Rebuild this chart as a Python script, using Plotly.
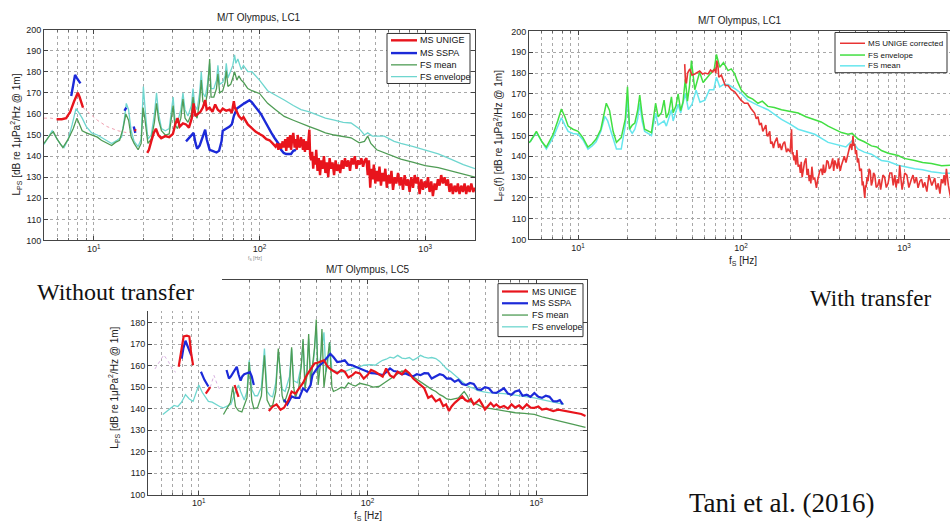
import math
import plotly.graph_objects as go

# ---- data (frequency Hz, level dB); None marks a gap ----

# LC1, without transfer
lc1_unige = [(5.96, 157.5), (6.4, 157.5), (6.8, 158), (7.2, 161), (7.6, 166), (8.0, 170), (8.2, 168), (8.5, 164), (8.6, 163),
             None,
             (17.6, 152.5), (18.0, 152),
             None,
             (21.0, 141.5), (21.5, 143), (22.2, 147), (23.0, 151), (23.7, 153), (24.5, 150), (25.5, 148.5), (27, 149.5),
             (28.5, 149), (30, 150.5), (31, 155), (32, 158), (33, 154), (34.5, 155.5), (36, 155), (37.5, 153.5), (39, 158),
             (40, 165), (41, 159), (42.5, 160), (44, 161), (45.5, 163), (47, 166.5), (48, 162), (50, 163), (52, 161),
             (54, 164.5), (56, 162), (58, 161), (60, 162.5), (63, 161.5), (66, 162), (68, 160.5), (70, 166), (71, 163),
             (73, 161), (75, 159), (78, 157.5), (80, 158.5), (85, 155), (90, 153), (95, 151.5), (100, 150.5), (105, 149.5),
             (110, 148), (115, 147.5), (120, 146), (125, 144.5), (128, 146), (130, 143), (133, 146), (135, 143.5),
             (138, 147), (140, 144), (143, 148), (145, 142.5), (148, 149), (150, 144), (153, 150), (155, 143),
             (158, 149), (160, 151), (163, 144), (165, 148), (168, 143), (170, 150), (173, 145), (175, 144),
             (178, 149), (180, 146), (183, 143), (185, 148), (188, 142), (190, 147), (195, 143),
             (200, 152.5), (202, 141), (205, 138), (208, 142), (211, 134), (214, 140), (217, 136), (220, 143),
             (224, 133), (228, 139), (232, 131), (236, 138), (240, 134), (245, 140), (250, 132), (255, 137),
             (260, 130), (265, 139), (270, 134), (276, 137), (282, 131), (288, 138), (294, 133), (300, 136),
             (307, 132), (314, 138), (321, 134), (328, 139), (336, 135), (344, 138), (352, 133), (360, 139),
             (368, 136), (376, 140), (385, 134), (394, 138), (403, 136), (412, 139), (422, 135), (432, 138),
             (442, 139), (450, 131), (458, 138), (466, 125), (474, 134), (482, 129), (490, 136), (500, 127),
             (510, 133), (520, 128), (530, 135), (541, 126), (552, 132), (563, 128), (575, 134), (587, 125),
             (600, 131), (613, 127), (626, 133), (640, 124), (655, 130), (670, 127), (686, 132), (702, 126),
             (718, 130), (735, 124), (752, 131), (770, 126), (788, 129), (806, 123), (825, 130), (845, 125),
             (865, 131), (885, 127), (905, 130), (926, 122), (948, 129), (970, 124), (993, 128), (1016, 125),
             (1040, 130), (1064, 123), (1089, 128), (1114, 121), (1140, 127), (1167, 124), (1194, 129),
             (1222, 126), (1250, 131), (1280, 127), (1310, 130), (1340, 126), (1372, 129), (1404, 123),
             (1437, 127), (1470, 122), (1505, 126), (1540, 123), (1576, 127), (1613, 122), (1651, 126),
             (1690, 123), (1730, 127), (1770, 122), (1812, 126), (1855, 123), (1900, 127), (1950, 123), (2000, 125)]

lc1_unige_faint = [(5.0, 158), (5.5, 158), (5.96, 157.5), None,
                   (8.6, 163), (9.5, 160), (10.5, 157), (12, 154), (14, 152), (16, 151), (17.6, 152.5)]

lc1_sspa = [(7.3, 168.5), (7.5, 173), (7.7, 178.5), (7.9, 177), (8.1, 175.5), (8.3, 174.5),
            None,
            (15.3, 161.5), (15.7, 163),
            None,
            (17.4, 154), (17.8, 151),
            None,
            (36, 147), (37.5, 148.5), (39, 150), (40, 151), (41, 146.5), (42, 143.5), (43.5, 145), (45, 148.5),
            (47, 152.5), (48, 148), (50, 143), (52, 142.5), (55, 141.7), (57, 142.5), (59, 147), (60, 152), (63, 153),
            (66, 154), (68, 155), (70, 159), (73, 162.5), (77, 164), (81, 165), (87, 166.5), (90, 165.5), (93, 164),
            (97, 162), (102, 160), (107, 157), (112, 154), (118, 151), (123, 148.7), (130, 146), (135, 143),
            (140, 141.5), (145, 141), (155, 141), (160, 142.5), (166, 143)]

lc1_fs_mean = [(5.0, 146), (5.5, 150.5), (5.7, 151.5), (6.0, 148), (6.5, 144), (7.0, 148), (7.5, 153), (7.9, 158),
               (8.2, 155), (8.5, 152), (9.0, 151), (9.7, 150), (10.5, 149), (11.1, 147.5), (12, 146), (12.8, 145),
               (13.5, 146.5), (14.3, 147.5), (15.0, 153), (15.6, 160), (16.2, 157), (16.8, 149), (17.5, 146),
               (18.5, 143), (19.3, 146), (19.8, 163), (20.3, 158), (21.2, 146), (22.2, 148), (23.2, 156), (23.9, 165),
               (24.6, 157), (25.6, 152), (27, 150), (28.5, 150.5), (30.1, 164), (30.8, 155), (32, 153), (33.5, 158),
               (34.5, 167), (35.5, 158), (37, 156), (38.8, 160), (39.7, 168), (40.7, 160), (42, 158), (43.5, 166),
               (44.5, 176), (45.5, 166), (47, 164), (48.5, 170), (50, 186), (51, 168), (53, 168), (55, 172),
               (56.1, 179), (57.5, 170), (60, 171), (62, 175), (63, 180.5), (64.5, 173), (67, 174), (69, 177),
               (70.7, 180), (73, 176), (75, 178), (77.6, 176), (80, 175), (85, 172), (90, 171), (100, 169.7),
               (112, 165), (125, 162), (141, 158.8), (160, 157), (178, 155.7), (200, 154), (224, 152.5), (250, 151),
               (283, 150), (320, 149.5), (357, 148.7), (400, 146.3), (430, 147), (450, 149.5), (470, 146), (510, 143),
               (600, 141), (713, 138.6), (850, 137), (1000, 135.5), (1200, 134.5), (1428, 133), (1700, 131.5),
               (2000, 130)]

lc1_fs_env = [(5.0, 145.5), (5.3, 149), (5.6, 152), (5.9, 149), (6.3, 145.5), (6.6, 144), (7.0, 148), (7.4, 155),
              (7.8, 162.5), (8.2, 160), (8.5, 158), (9.0, 154), (9.7, 151), (10.5, 150), (11.5, 148), (12.8, 146),
              (13.8, 147.5), (14.7, 149), (15.3, 158), (15.7, 165), (16.2, 162), (16.8, 152), (17.5, 147),
              (18.5, 144.5), (19.3, 148), (19.9, 173), (20.5, 160), (21.2, 148), (22.2, 150), (23.2, 160),
              (23.9, 170), (24.6, 160), (25.6, 153), (27, 152), (28.5, 153), (30.1, 168), (30.8, 158), (32, 156),
              (33.5, 162), (34.5, 170), (35.5, 162), (37, 159), (38.8, 164), (39.7, 172), (40.7, 164), (42, 162),
              (43.5, 170), (44.5, 180), (45.5, 170), (47, 168), (48.5, 174), (50, 184), (51, 172), (53, 172),
              (55, 176), (56.1, 183), (57.5, 174), (60, 175), (62, 178), (63, 184), (64.5, 177), (67, 180), (69, 183),
              (70.7, 188), (72, 184), (74, 186), (77.6, 181), (80, 183), (85, 180), (90, 180), (95, 178), (100, 176),
              (112, 171), (125, 169), (141, 166.6), (160, 164), (178, 162), (200, 161), (224, 159.6), (250, 158),
              (283, 157), (320, 156), (357, 155.7), (400, 153), (430, 150), (450, 151), (480, 149.5), (566, 149.5),
              (650, 147), (713, 146), (850, 144.5), (1000, 143), (1200, 141), (1428, 138.6), (1700, 136),
              (2000, 134)]

# LC1, with transfer
lc1t_unige_corr = [(45.1, 184.3), (45.6, 176), (46.2, 175), (47, 180), (48.5, 182), (50, 179), (52, 179.6),
                   (54, 180.5), (55.7, 181), (58, 179.5), (60, 180), (62.8, 179.6), (65, 181.5), (67, 180.5),
                   (68.9, 182), (70, 180), (71, 186), (72.2, 183), (73, 178), (75.7, 179), (78, 176), (80, 174),
                   (83.2, 174), (87, 172), (91.4, 171), (95, 169), (99.8, 167), (105, 165.5), (110, 165.5),
                   (115, 163), (121, 160.8), (124, 158), (127, 159), (130, 155), (133, 156), (136, 152), (138, 153),
                   (142, 155), (144, 150), (146, 149.8), (150, 152), (152, 146), (155, 147), (158, 144),
                   (161, 146.7), (166, 149), (170, 144), (173, 146), (177, 143), (181, 146), (185, 147),
                   (190, 142), (194, 143.5), (200, 142), (204, 153), (206, 141), (208, 142), (211, 138),
                   (213, 140.4), (217, 136), (220, 143), (224, 135), (228, 136), (231, 132), (234, 137.3),
                   (237, 130), (240, 133), (245, 137), (250, 139), (254, 131), (258, 134), (262, 128), (265, 131),
                   (268, 127), (272, 135), (277, 129), (283, 129.5), (287, 126), (290, 124.8), (294, 128),
                   (298, 130), (304, 133), (311, 134), (316, 131), (320, 136), (325, 132), (330, 133), (336, 138),
                   (342, 137.3), (348, 134), (355, 135), (360, 138), (365, 139), (370, 133), (376, 138), (383, 136),
                   (390, 134), (395, 139), (400, 137), (406, 133), (413, 135.7), (420, 138), (430, 140), (440, 137),
                   (453, 142), (462, 144), (470, 146), (478, 143), (486, 149.8), (492, 145), (498, 146), (504, 141),
                   (510, 143), (518, 137), (525, 139), (535, 133), (547, 134), (554, 126), (560, 128), (567, 123),
                   (574, 120), (580, 126), (585, 125), (593, 130), (601, 128), (610, 134), (620, 133), (630, 126),
                   (640, 128), (650, 132), (661, 131), (675, 125), (690, 126), (705, 129), (718, 124),
                   (726, 126.3), (742, 131), (760, 130), (778, 125), (798, 127), (818, 132), (840, 132), (858, 126),
                   (877, 131), (893, 125), (910, 129), (925, 127), (940, 135.7), (950, 130), (960, 128), (973, 124),
                   (986, 127), (1010, 132), (1040, 131), (1070, 125), (1109, 129), (1135, 131), (1160, 127),
                   (1190, 130), (1219, 124.8), (1250, 128), (1280, 129), (1310, 125), (1340, 127.5), (1380, 123),
                   (1420, 131), (1480, 126), (1542, 129.5), (1580, 124), (1620, 127), (1660, 122), (1695, 129),
                   (1730, 127), (1760, 131), (1790, 126), (1818, 134), (1845, 128), (1870, 126), (1910, 122),
                   (1950, 118.5)]

lc1t_fs_env = [(5.0, 146.5), (5.13, 147.5), (5.55, 152), (6.0, 147), (6.39, 144.4), (7.03, 150.6), (7.5, 157),
               (7.9, 162.7), (8.3, 159), (8.69, 154.5), (9.3, 153), (10, 152), (10.7, 149), (11.5, 144.4),
               (12.2, 146), (12.9, 148.3), (13.8, 153), (14.6, 162.4), (14.9, 165.5), (15.6, 162), (16.4, 152),
               (17.2, 146.7), (18.4, 149), (19.5, 158), (20.1, 173.4), (20.7, 153), (21.5, 155), (22.3, 156),
               (23.2, 162), (23.9, 169.4), (24.7, 160), (25.6, 153), (27, 152), (28.2, 151.4), (29.9, 165.5),
               (31, 159), (32.5, 161), (33.7, 167), (34.8, 158.5), (36, 161), (37.4, 168.6), (38.3, 161),
               (39.8, 164), (41.1, 170), (42.6, 162), (44, 166), (45.5, 177), (46.9, 166.5), (48.3, 174),
               (49.6, 186), (52, 172), (54, 176), (55.7, 180.4), (58.5, 175.5), (62, 178), (65.8, 180.4),
               (68.5, 182), (70.6, 189), (74, 182.8), (78, 185), (83.2, 181.2), (87, 182), (91.4, 179.6), (95, 176),
               (100.4, 171.8), (110, 168.6), (118, 167.5), (127, 165.5), (135, 166.5), (146, 164), (160, 163.5),
               (177, 162.4), (200, 161.5), (224, 160.8), (250, 159), (283, 157.7), (310, 156.5), (342, 154.5),
               (375, 153), (413, 151.4), (453, 150.6), (480, 151), (522, 148.3), (570, 147), (631, 145),
               (680, 144.5), (726, 142.8), (800, 141.5), (919, 140.4), (1000, 139), (1162, 138), (1300, 137),
               (1471, 136.5), (1700, 135.5), (1950, 135.7)]

lc1t_fs_mean = [(5.0, 146.5), (5.13, 147.5), (5.55, 151.5), (6.0, 147), (6.39, 143.5), (7.03, 149), (7.5, 154),
                (7.9, 158.5), (8.3, 155), (8.69, 152), (9.3, 151), (10, 150.6), (10.7, 148), (11.5, 143.5),
                (12.2, 145), (12.9, 147), (13.8, 152), (14.6, 159.2), (15.2, 157), (16.4, 149), (17.2, 143.5),
                (18.4, 143.5), (19.5, 155), (20.1, 168.7), (20.7, 153), (21.5, 151), (22.3, 153), (23.2, 158),
                (23.9, 165.5), (24.7, 157), (25.6, 152), (28.2, 150), (29.9, 160.8), (31, 155), (33.7, 157),
                (34.8, 154.5), (37.4, 162.4), (38.3, 157), (41.1, 165), (42.6, 160.8), (45.5, 170.2), (47.5, 162.4),
                (50, 165), (53, 171.8), (56, 166), (60, 167), (64, 172), (68, 172), (70.6, 178), (74, 173.4),
                (78, 174.5), (83.2, 174.5), (91.4, 172.6), (100.4, 170.2), (110, 167), (127, 164.5), (146, 162.4),
                (177, 157.7), (200, 155.5), (224, 153), (283, 150.6), (342, 146.7), (413, 145.1), (440, 144.5),
                (480, 147.5), (520, 143.5), (570, 142), (631, 141), (726, 138), (800, 137.5), (919, 135.7),
                (1000, 135), (1162, 134), (1300, 133.5), (1471, 132.6), (1700, 132), (1950, 131.8)]

# LC5, without transfer
lc5_unige = [(7.6, 159.5), (7.9, 167), (8.13, 173.6), (8.5, 174), (8.79, 173.6), (9.0, 166), (9.25, 160.2),
             None,
             (11.0, 147), (11.4, 148.5), (11.7, 150),
             None,
             (16.3, 151), (16.8, 148), (17.2, 145.5),
             None,
             (26.0, 138.9), (27.4, 141), (28.9, 142), (30.5, 139.5), (32.0, 140.4), (34, 144), (35.5, 148),
             (37.4, 147), (39.4, 149.5), (41.5, 152), (43.7, 155.6), (46, 158), (48.5, 161), (51, 161.5),
             (53.7, 162), (55.2, 162.5), (57.5, 160), (59.6, 158.7), (62.8, 157.5), (66.1, 156.4), (70, 158),
             (73.3, 157.2), (77, 154.5), (81.3, 155.6), (85, 157), (90.1, 156.4), (95, 154), (100, 155.6),
             (105, 158), (111, 157.2), (117, 156), (123, 154.9), (129, 158.7), (136, 155.5), (143, 154.5),
             (151, 157.2), (160, 156), (168, 158), (177, 156.5), (186, 154.1), (196, 152.5), (206, 151),
             (217, 149.5), (229, 145), (240, 146), (254, 143.4), (268, 144.5), (281, 141.2), (292, 142),
             (304, 138.9), (315, 141), (329, 142.7), (346, 144), (364, 145.7), (380, 144), (394, 143.4),
             (410, 144.5), (426, 142), (443, 143), (460, 144.2), (478, 142), (497, 139.6), (515, 141),
             (537, 142.7), (560, 141), (580, 142), (610, 140.5), (644, 141.2), (680, 140), (714, 142),
             (750, 140.5), (792, 141.5), (830, 140), (879, 142), (925, 140.5), (975, 140.4), (1030, 141),
             (1081, 139.6), (1150, 140), (1262, 138.9), (1350, 139.5), (1475, 139), (1600, 138.5),
             (1721, 138.1), (1850, 137.5), (1959, 136.6)]

lc5_unige_faint = [(5.5, 158.5), (5.9, 162), (6.2, 165), (6.6, 162), (7.0, 158), (7.3, 157), None,
                   (11.7, 150), (12.3, 155.5), (12.9, 151), (13.5, 148)]

lc5_sspa = [(7.92, 163.3), (8.1, 168), (8.34, 171.6), (8.6, 169), (8.79, 167.8), (9.02, 164.8),
            None,
            (10.3, 157.2), (10.8, 153.4), (11.4, 150.3),
            None,
            (14.6, 158), (15.1, 154), (15.5, 155), (15.9, 156.4), (16.3, 158), (16.8, 159.5), (17.2, 156),
            (17.7, 153), (18.1, 155), (18.6, 156), (19.1, 156.4), (20.1, 157), (20.6, 155), (21.2, 151),
            None,
            (32.0, 144.2), (33.5, 142), (35.5, 145.7), (37.4, 145), (39.4, 145), (41.5, 149.5), (43.7, 148),
            (46, 151), (47.2, 155.6), (49, 157.5), (51, 159.5), (53.7, 161), (56.6, 163.3), (60.2, 165.5),
            (62.8, 164), (66.1, 161.7), (70, 162), (73.3, 162.5), (77, 160.5), (81.3, 160.2), (85, 159.5),
            (90.1, 158.7), (95, 157.8), (100, 157.2), (105, 156.5), (111, 156.4), (117, 156), (123, 155.6),
            (129, 157), (136, 158.7), (143, 157.5), (151, 157.2), (160, 156), (168, 156.4), (177, 155.5),
            (186, 155), (196, 156), (206, 155.6), (217, 156.5), (229, 156.4), (240, 154), (254, 154.9),
            (268, 156), (281, 155.6), (295, 154), (311, 154.1), (329, 152.5), (346, 153.4), (364, 151.5),
            (384, 151), (405, 152), (426, 151.5), (448, 149), (472, 148.8), (497, 150), (524, 149.5),
            (550, 147.5), (580, 147.3), (610, 148.5), (644, 149.5), (680, 147), (714, 146.5), (750, 148),
            (792, 148.5), (830, 146), (879, 146.5), (925, 145.5), (975, 147.3), (1030, 145.5), (1081, 145),
            (1140, 146), (1199, 145.5), (1260, 143.5), (1330, 143.4), (1380, 144), (1437, 142)]

lc5_fs_mean = [(14.0, 137.3), (14.7, 140.4), (15.4, 143), (15.9, 150.3), (16.5, 141), (17.2, 139), (18.0, 138.5),
               (19.3, 145), (19.9, 161.7), (20.6, 144), (21.2, 140), (22.3, 140.5), (23.5, 146), (24.5, 164.8),
               (25.4, 144), (26.5, 141), (27.4, 141.5), (28.6, 148), (29.6, 168), (31.2, 146), (32.0, 143),
               (32.9, 145), (34.5, 150), (35.5, 168.6), (36.5, 150), (37.4, 145), (39.2, 150), (40.5, 160),
               (41.5, 172.4), (42.6, 149), (43.7, 155), (44.8, 174.7), (46.0, 151), (47.2, 160), (48.5, 168),
               (49.7, 181.5), (51.0, 151), (52.5, 160), (53.7, 177), (55.2, 150), (57, 158), (59.6, 170.9),
               (61.5, 150), (62.8, 148), (66.1, 148.8), (70, 150), (73.3, 149.5), (77, 152), (81.3, 151),
               (85, 150.5), (90.1, 151.8), (100, 151), (108, 150), (117, 150.3), (123, 151.5), (129, 152.6),
               (140, 154.5), (151, 156.4), (160, 157.5), (168, 157.2), (177, 156), (186, 154.9), (196, 153.5),
               (206, 152.6), (217, 151.5), (229, 150.3), (240, 149), (254, 148), (268, 146.5), (281, 145.7),
               (295, 144.5), (312, 144.2), (329, 144.5), (346, 145), (360, 146.5), (374, 148), (390, 146),
               (404, 143.4), (426, 142.5), (448, 142), (472, 141), (497, 140.4), (540, 140), (580, 139.6),
               (650, 139), (752, 138.1), (850, 137.8), (975, 137.3), (1100, 136), (1262, 135), (1450, 134),
               (1634, 132.8), (1800, 132), (1959, 131.3)]

lc5_fs_env = [(6.12, 137.3), (6.5, 139), (6.78, 140.4), (7.14, 141.5), (7.52, 141), (7.9, 143), (8.34, 146.5),
              (8.79, 144.5), (9.25, 143.4), (9.6, 147), (10, 151), (10.5, 147.5), (11.0, 145), (11.4, 143.4),
              (12.0, 143), (12.6, 142), (13.3, 141), (14.0, 140.4), (14.7, 141), (15.5, 142), (16.3, 147),
              (17.2, 151), (17.7, 148), (18.6, 144), (19.3, 148), (19.9, 162.5), (20.6, 149), (21.5, 146),
              (22.3, 146), (23.5, 150), (24.5, 168), (25.4, 148), (26.5, 146), (27.4, 145.5), (28.6, 152),
              (29.6, 166.3), (31.2, 149), (32.5, 148), (34.5, 155), (35.5, 167.8), (36.5, 153), (38.5, 152),
              (40.5, 160), (41.5, 171.6), (42.6, 153), (43.7, 158), (44.8, 172.5), (46, 154), (48, 163),
              (49.7, 178.5), (51, 156), (53, 165), (55.2, 175.5), (56.6, 157), (58, 160), (59.6, 170.9),
              (61.5, 158), (66.1, 157.2), (70, 157), (73.3, 157.2), (77, 158), (81.3, 158.7), (90.1, 159.5),
              (95, 160.2), (105, 160.5), (111, 160.2), (117, 161.5), (123, 162.5), (129, 163), (136, 164),
              (143, 163.5), (151, 164.8), (160, 163.5), (168, 163.3), (177, 163.8), (186, 162.5), (196, 163.5),
              (206, 164.8), (217, 164), (229, 163.5), (240, 163.8), (254, 163.3), (268, 162), (281, 160.2),
              (295, 158.5), (312, 157.2), (329, 155.5), (346, 154.1), (364, 152.5), (384, 151), (405, 150),
              (426, 149.5), (448, 148.5), (472, 148), (520, 147.5), (580, 147.3), (644, 147), (714, 146.5),
              (792, 146), (879, 145.7), (975, 145), (1081, 144.2), (1200, 143.5), (1330, 142.7), (1460, 142)]

x_ticks = [10, 100, 1000]
x_tick_text = ["10<sup>1</sup>", "10<sup>2</sup>", "10<sup>3</sup>"]
y_ticks = list(range(100, 201, 10))
y_ticks_lc5 = list(range(100, 181, 10))   # 190/200 sit under the caption patch

RED = "#e8141c"
BLUE = "#1c2ad8"
GREEN_MEAN = "#4f9c55"
CYAN_ENV = "#6fd6cf"
RED_T = "#e83434"
GREEN_T = "#42df42"
CYAN_T = "#66e6ee"

W, H = 950, 531
FONT = "Arial, Liberation Sans, sans-serif"
SERIF = "Liberation Serif, Times New Roman, serif"


def px(x):
    return x / W


def py(y):
    return 1 - y / H


def split(points):
    xs, ys = [], []
    for p in points:
        if p is None:
            xs.append(None)
            ys.append(None)
        else:
            xs.append(p[0])
            ys.append(p[1])
    return xs, ys


fig = go.Figure()


def add_line(points, color, width, axis, dash="solid"):
    xs, ys = split(points)
    fig.add_trace(go.Scatter(x=xs, y=ys, mode="lines", connectgaps=False,
                             line=dict(color=color, width=width, dash=dash),
                             showlegend=False, hoverinfo="skip",
                             xaxis="x" + axis, yaxis="y" + axis))


# panel 1 (LC1, without transfer)
add_line(lc1_unige_faint, "#f0a0b0", 1, "", dash="dot")
add_line(lc1_fs_env, CYAN_ENV, 1.3, "")
add_line(lc1_fs_mean, GREEN_MEAN, 1.3, "")
add_line(lc1_sspa, BLUE, 2.4, "")
add_line(lc1_unige, RED, 2.4, "")
# panel 2 (LC1, with transfer)
add_line(lc1t_fs_mean, CYAN_T, 1.5, "2")
add_line(lc1t_fs_env, GREEN_T, 1.5, "2")
add_line(lc1t_unige_corr, RED_T, 1.6, "2")
# panel 3 (LC5, without transfer)
add_line(lc5_unige_faint, "#d8b0e0", 1, "3", dash="dot")
add_line(lc5_fs_env, CYAN_ENV, 1.3, "3")
add_line(lc5_fs_mean, GREEN_MEAN, 1.3, "3")
add_line(lc5_sspa, BLUE, 2.2, "3")
add_line(lc5_unige, RED, 2.2, "3")

GRID = dict(showgrid=True, gridcolor="#a8a8a8", griddash="dot", gridwidth=1)


def xaxis(domain, rng, anchor):
    return dict(type="log", domain=domain, range=rng, anchor=anchor,
                tickvals=x_ticks, ticktext=x_tick_text, ticks="inside", ticklen=4,
                tickcolor="#444", showline=True, linecolor="#444", linewidth=1,
                mirror="ticks", zeroline=False,
                tickfont=dict(family=FONT, size=9, color="#222"),
                minor=dict(dtick="D1", ticks="inside", ticklen=2, tickcolor="#666", **GRID),
                **GRID)


def yaxis(domain, anchor, ticks, mirror=True):
    return dict(domain=domain, range=[100, 200], anchor=anchor, tickvals=ticks,
                ticks="inside", ticklen=4, tickcolor="#444", showline=True, linecolor="#444",
                linewidth=1, mirror="ticks" if mirror else False, zeroline=False,
                tickfont=dict(family=FONT, size=9, color="#222"), **GRID)


log_lo, log_hi = math.log10(5), math.log10(2000)

fig.update_layout(
    width=W, height=H, autosize=False,
    margin=dict(l=0, r=0, t=0, b=0),
    paper_bgcolor="white", plot_bgcolor="white",
    showlegend=False,
    xaxis=xaxis([px(44), px(475)], [log_lo, log_hi], "y"),
    yaxis=yaxis([py(240), py(25)], "x", y_ticks),
    xaxis2=xaxis([px(529), 1.0], [log_lo, log_lo + (950 - 529) / 163], "y2"),
    yaxis2=yaxis([py(239), py(27)], "x2", y_ticks, mirror=False),
    xaxis3=xaxis([px(148), px(587)], [log_lo, log_hi], "y3"),
    yaxis3=yaxis([py(499), py(280)], "x3", y_ticks_lc5),
)

shapes = []
annotations = []


def text(x, y, s, size=10, family=FONT, angle=0, xanchor="center", color="#222"):
    annotations.append(dict(x=px(x), y=py(y), xref="paper", yref="paper", text=s, showarrow=False,
                            xanchor=xanchor, yanchor="middle", textangle=angle,
                            font=dict(family=family, size=size, color=color)))


def legend(box, rows, line_x, text_x, size=9):
    x0, y0, x1, y1 = box
    shapes.append(dict(type="rect", xref="paper", yref="paper", x0=px(x0), x1=px(x1), y0=py(y1), y1=py(y0),
                       fillcolor="white", line=dict(color="#333", width=1), layer="above"))
    for y, color, width, label in rows:
        shapes.append(dict(type="line", xref="paper", yref="paper", x0=px(line_x[0]), x1=px(line_x[1]),
                           y0=py(y), y1=py(y), line=dict(color=color, width=width), layer="above"))
        text(text_x, y, label, size=size, xanchor="left", color="#111")


# white patch behind "Without transfer"
shapes.append(dict(type="rect", xref="paper", yref="paper", x0=0, x1=px(222), y0=py(312), y1=py(262),
                   fillcolor="white", line=dict(width=0), layer="above"))

legend((387, 29, 470, 80), [(36, RED, 2.4, "MS UNIGE"), (49, BLUE, 2.4, "MS SSPA"),
                            (61, GREEN_MEAN, 1.3, "FS mean"), (73, CYAN_ENV, 1.3, "FS envelope")],
       (391, 417), 418)
legend((835, 28, 947, 69), [(39, RED_T, 1.5, "MS UNIGE corrected"), (51, GREEN_T, 1.5, "FS envelope"),
                            (62, CYAN_T, 1.5, "FS mean")],
       (840, 865), 866, size=8)
legend((498, 284, 583, 338), [(292, RED, 2.2, "MS UNIGE"), (304, BLUE, 2.2, "MS SSPA"),
                              (316, GREEN_MEAN, 1.3, "FS mean"), (328, CYAN_ENV, 1.3, "FS envelope")],
       (502, 528), 530)

# titles
text(259, 13, "M/T Olympus, LC1")
text(740, 16, "M/T Olympus, LC1")
text(368, 270, "M/T Olympus, LC5")

# axis titles
ylab = "L<sub>PS</sub> [dB re 1μPa<sup>2</sup>/Hz @ 1m]"
text(16, 132, ylab, angle=-90)
text(498, 133, "L<sub>PS</sub>(f) [dB re 1μPa<sup>2</sup>/Hz @ 1m]", angle=-90)
text(114, 390, ylab, angle=-90)
text(255, 258, "f<sub>S</sub> [Hz]", size=5, color="#888")
text(743, 261, "f<sub>S</sub> [Hz]")
text(368, 521, "f<sub>S</sub> [Hz]")

# slide captions
text(115, 292, "Without transfer", size=24, family=SERIF, color="#111")
text(870, 299, "With transfer", size=23, family=SERIF, color="#111")
text(782, 508, "Tani et al. (2016)", size=27, family=SERIF, color="#111")

fig.update_layout(shapes=shapes, annotations=annotations)

# page body margin would shift the figure by 8px
fig.write_html("out.html", config={"displayModeBar": False},
               post_script="document.body.style.margin='0';")
